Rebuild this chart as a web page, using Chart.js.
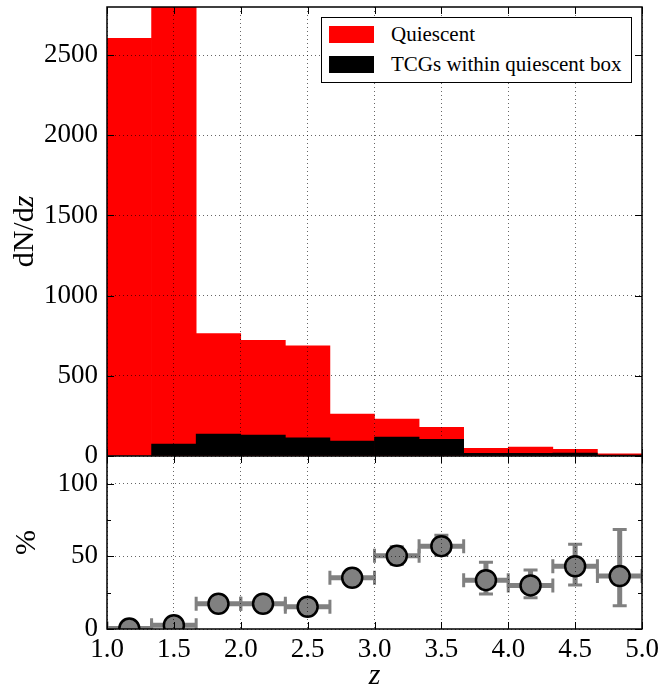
<!DOCTYPE html>
<html>
<head>
<meta charset="utf-8">
<title>dN/dz quiescent vs TCGs</title>
<script src="https://cdn.jsdelivr.net/npm/chart.js@4.4.1/dist/chart.umd.min.js"></script>
<style>
  body { margin: 0; background: #fff; }
  #wrap { position: relative; width: 660px; height: 691px; }
  #legend {
    position: absolute; left: 321px; top: 17px; width: 309px; height: 64px;
    border: 1px solid #000; background: #fff;
    font-family: "Liberation Serif", "DejaVu Serif", "Times New Roman", Times, "Noto Serif", serif;
    font-size: 21px; color: #000;
  }
  .item { position: absolute; left: 7px; height: 17px; display: flex; align-items: center; white-space: nowrap; }
  .swatch { width: 45px; height: 17px; margin-right: 17px; flex: none; }
</style>
</head>
<body>
<div id="wrap">
  <canvas id="chart" width="660" height="691"></canvas>
  <div id="legend"></div>
</div>
<script>
"use strict";

// ── Data ─────────────────────────────────────────────────────────────────────

const binCenters = [1.1667, 1.5, 1.8333, 2.1667, 2.5, 2.8333, 3.1667, 3.5, 3.8333, 4.1667, 4.5, 4.8333];
const binHalfWidths = [0.1667, 0.1667, 0.1667, 0.1667, 0.1667, 0.1667, 0.1667, 0.1667, 0.1667, 0.1667, 0.1667, 0.1667];

const quiescentCounts = [2605, 2950, 764, 722, 687, 261, 230, 179, 48, 56, 42, 14];
const tcgCounts       = [0, 74, 137, 131, 114, 93, 118, 104, 16, 17, 18, 5];

const tcgPercent   = [0.3, 2.6, 17.4, 17.4, 15.3, 35.2, 50.3, 57.0, 33.6, 30.0, 43.2, 36.4];
const percentLower = [0.0, 1.9, 15.4, 15.4, 13.5, 32.0, 44.5, 50.8, 24.0, 21.5, 30.2, 16.0];
const percentUpper = [0.8, 3.4, 19.4, 19.4, 17.1, 38.4, 56.5, 64.5, 46.0, 40.5, 58.3, 68.4];

const seriesLabels = ["Quiescent", "TCGs within quiescent box"];
const seriesColors = ["#ff0000", "#000000"];

const xTicks = [1.0, 1.5, 2.0, 2.5, 3.0, 3.5, 4.0, 4.5, 5.0];
const countTicks = [0, 500, 1000, 1500, 2000, 2500];
const percentTicks = [0, 25, 50, 75, 100];

// ── Style ────────────────────────────────────────────────────────────────────

const SERIF = '"Liberation Serif", "DejaVu Serif", "Times New Roman", Times, "Noto Serif", serif';
const GRID_COLOR = "rgba(0,0,0,0.6)";
const ERR_COLOR = "#808080";

Chart.defaults.font.family = SERIF;
Chart.defaults.font.size = 27;
Chart.defaults.color = "#000";

const toPoints = (xs, ys) => xs.map((x, i) => ({ x, y: ys[i] }));
const fixedTicks = values => scale => { scale.ticks = values.map(v => ({ value: v })); };
// keep the plot area exactly where the reference has it: no label overhang padding
const noPadding = extra => scale => {
  scale.paddingTop = scale.paddingBottom = scale.paddingLeft = scale.paddingRight = 0;
  extra(scale);
};

// ── Plugin: error bars, frame, inward ticks, axis titles ────────────────────

const panelDecor = {
  id: "panelDecor",
  beforeDatasetsDraw(chart) {
    const { ctx, chartArea, scales: { x, y2 } } = chart;
    ctx.save();
    ctx.beginPath();
    ctx.rect(chartArea.left, y2.top, chartArea.right - chartArea.left, y2.bottom - y2.top);
    ctx.clip();
    ctx.strokeStyle = ERR_COLOR;
    binCenters.forEach((c, i) => {
      const cx = x.getPixelForValue(c);
      const cy = y2.getPixelForValue(tcgPercent[i]);
      const x0 = x.getPixelForValue(c - binHalfWidths[i]);
      const x1 = x.getPixelForValue(c + binHalfWidths[i]);
      const yLo = y2.getPixelForValue(percentLower[i]);
      const yHi = y2.getPixelForValue(percentUpper[i]);
      ctx.lineWidth = 5;
      ctx.beginPath();
      ctx.moveTo(x0, cy); ctx.lineTo(x1, cy);
      ctx.moveTo(cx, yLo); ctx.lineTo(cx, yHi);
      ctx.stroke();
      ctx.lineWidth = 3;
      ctx.beginPath();
      ctx.moveTo(x0, cy - 7); ctx.lineTo(x0, cy + 7);
      ctx.moveTo(x1, cy - 7); ctx.lineTo(x1, cy + 7);
      ctx.moveTo(cx - 7, yLo); ctx.lineTo(cx + 7, yLo);
      ctx.moveTo(cx - 7, yHi); ctx.lineTo(cx + 7, yHi);
      ctx.stroke();
    });
    ctx.restore();
  },
  afterDraw(chart) {
    const { ctx, chartArea: a, scales: { x, y, y2 } } = chart;
    ctx.save();
    ctx.strokeStyle = "#000";
    ctx.lineWidth = 1;
    // inward tick marks on every panel edge
    ctx.beginPath();
    [y, y2].forEach(ys => {
      xTicks.forEach(v => {
        const px = Math.round(x.getPixelForValue(v)) + 0.5;
        ctx.moveTo(px, ys.top); ctx.lineTo(px, ys.top + 7);
        ctx.moveTo(px, ys.bottom); ctx.lineTo(px, ys.bottom - 7);
      });
      ys.ticks.forEach(t => {
        const py = Math.round(ys.getPixelForValue(t.value)) + 0.5;
        const len = (ys.id === "y2" && t.value % 50 !== 0) ? 4 : 7;
        ctx.moveTo(a.left, py); ctx.lineTo(a.left + len, py);
        ctx.moveTo(a.right, py); ctx.lineTo(a.right - len, py);
      });
    });
    ctx.stroke();
    // frame and panel separator
    ctx.lineWidth = 1.5;
    ctx.strokeRect(a.left, a.top, a.right - a.left, a.bottom - a.top);
    ctx.beginPath();
    ctx.moveTo(a.left, y.bottom); ctx.lineTo(a.right, y.bottom);
    ctx.stroke();

    // axis titles
    ctx.fillStyle = "#000";
    ctx.textBaseline = "middle";
    ctx.save();
    ctx.translate(25, (y.top + y.bottom) / 2);
    ctx.rotate(-Math.PI / 2);
    ctx.font = "30px " + SERIF;
    const w1 = ctx.measureText("dN/d").width;
    ctx.font = "italic 30px " + SERIF;
    const w2 = ctx.measureText("z").width;
    ctx.textAlign = "left";
    ctx.font = "30px " + SERIF;
    ctx.fillText("dN/d", -(w1 + w2) / 2, 0);
    ctx.font = "italic 30px " + SERIF;
    ctx.fillText("z", -(w1 + w2) / 2 + w1, 0);
    ctx.restore();

    ctx.save();
    ctx.translate(27, (y2.top + y2.bottom) / 2);
    ctx.rotate(-Math.PI / 2);
    ctx.textAlign = "center";
    ctx.font = "30px " + SERIF;
    ctx.fillText("%", 0, 0);
    ctx.restore();

    ctx.textAlign = "center";
    ctx.font = "italic 30px " + SERIF;
    ctx.fillText("z", (a.left + a.right) / 2, 676);
    ctx.restore();
  },
};

// ── Chart ────────────────────────────────────────────────────────────────────

const chart = new Chart(document.getElementById("chart"), {
  type: "bar",
  data: {
    datasets: [
      {
        label: seriesLabels[0],
        data: toPoints(binCenters, quiescentCounts),
        backgroundColor: seriesColors[0],
        borderWidth: 0,
        barPercentage: 1.0,
        categoryPercentage: 1.0,
        grouped: false,
        yAxisID: "y",
        order: 3,
      },
      {
        label: seriesLabels[1],
        data: toPoints(binCenters, tcgCounts),
        backgroundColor: seriesColors[1],
        borderWidth: 0,
        barPercentage: 1.0,
        categoryPercentage: 1.0,
        grouped: false,
        yAxisID: "y",
        order: 2,
      },
      {
        type: "scatter",
        label: "fraction",
        data: toPoints(binCenters, tcgPercent),
        yAxisID: "y2",
        pointRadius: 10,
        pointBorderWidth: 2.5,
        pointBackgroundColor: "#808080",
        pointBorderColor: "#000",
        clip: 0,
        order: 1,
      },
    ],
  },
  options: {
    responsive: false,
    animation: false,
    devicePixelRatio: 1,
    layout: { autoPadding: false, padding: { left: 7, right: 18, top: 7, bottom: 0 } },
    plugins: { legend: { display: false }, tooltip: { enabled: false } },
    scales: {
      x: {
        type: "linear",
        min: 1.0,
        max: 5.0,
        offset: false,
        afterBuildTicks: fixedTicks(xTicks),
        afterFit: noPadding(s => { s.height = 62; }),
        ticks: { autoSkip: false, maxRotation: 0, padding: 5, callback: v => v.toFixed(1) },
        grid: { offset: false, color: GRID_COLOR, lineWidth: 1, drawTicks: false, z: 1 },
        border: { display: false, dash: [1, 3] },
      },
      y: {
        type: "linear",
        position: "left",
        stack: "panels",
        stackWeight: 449,
        weight: 1,
        min: 0,
        max: 2800,
        afterBuildTicks: fixedTicks(countTicks),
        afterFit: noPadding(s => { s.width = 100; }),
        ticks: { autoSkip: false, padding: 9, callback: v => String(v) },
        grid: { color: GRID_COLOR, lineWidth: 1, drawTicks: false, z: 1 },
        border: { display: false, dash: [1, 3] },
      },
      y2: {
        type: "linear",
        position: "left",
        stack: "panels",
        stackWeight: 173,
        weight: 0,
        min: 0,
        max: 119,
        afterBuildTicks: fixedTicks(percentTicks),
        afterFit: noPadding(s => { s.width = 100; }),
        ticks: { autoSkip: false, padding: 9, callback: v => (v % 50 === 0 ? String(v) : "") },
        grid: {
          color: c => (c.tick && c.tick.value % 50 === 0 ? GRID_COLOR : "rgba(0,0,0,0)"),
          lineWidth: 1,
          drawTicks: false,
          z: 1,
        },
        border: { display: false, dash: [1, 3] },
      },
    },
  },
  plugins: [panelDecor],
});

// ── Legend (HTML overlay inside the top panel) ──────────────────────────────

document.getElementById("legend").innerHTML = seriesLabels.map((label, i) => `
  <div class="item" style="top:${8 + i * 29.5}px">
    <span class="swatch" style="background:${seriesColors[i]}"></span>${label}
  </div>`).join("");
</script>
</body>
</html>
